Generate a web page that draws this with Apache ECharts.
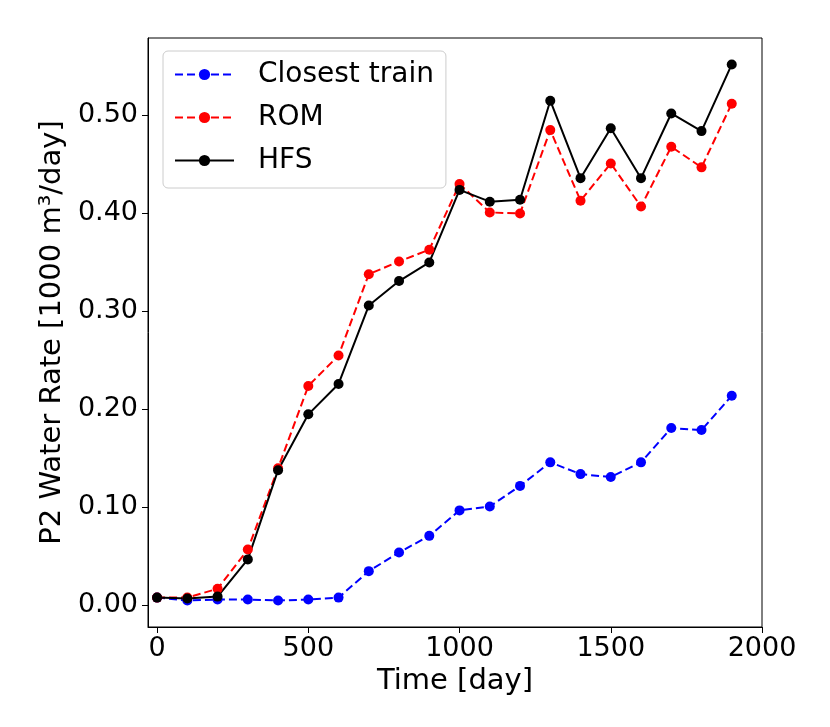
<!DOCTYPE html>
<html>
<head>
<meta charset="utf-8">
<script src="https://cdn.jsdelivr.net/npm/echarts@6/dist/echarts.min.js"></script>
<style>
  html, body { margin: 0; padding: 0; background: #fff; }
  #main { width: 830px; height: 727px; }
</style>
</head>
<body>
<div id="main"></div>
<script>
// data
var days = [0, 100, 200, 300, 400, 500, 600, 700, 800, 900, 1000, 1100, 1200, 1300, 1400, 1500, 1600, 1700, 1800, 1900];
var closestTrain = [0.008, 0.005, 0.006, 0.006, 0.005, 0.006, 0.008, 0.035, 0.054, 0.071, 0.097, 0.101, 0.122, 0.146, 0.134, 0.131, 0.146, 0.181, 0.179, 0.214];
var rom = [0.008, 0.008, 0.017, 0.057, 0.140, 0.224, 0.255, 0.338, 0.351, 0.363, 0.430, 0.401, 0.400, 0.485, 0.413, 0.451, 0.407, 0.468, 0.447, 0.512];
var hfs = [0.008, 0.007, 0.009, 0.047, 0.138, 0.195, 0.226, 0.306, 0.331, 0.350, 0.424, 0.412, 0.414, 0.515, 0.436, 0.487, 0.436, 0.502, 0.484, 0.552];
var xTicks = [0, 500, 1000, 1500, 2000];
var yTicks = [0, 0.1, 0.2, 0.3, 0.4, 0.5];

var font = 'DejaVu Sans';

function pairs(ys) {
    return days.map(function (d, i) { return [d, ys[i]]; });
}

function makeSeries(name, ys, color, dashed) {
    return {
        name: name,
        type: 'line',
        data: pairs(ys),
        symbol: 'circle',
        symbolSize: 10,
        color: color,
        itemStyle: { color: color },
        lineStyle: { color: color, width: 2, type: dashed ? [8, 4] : 'solid' },
        emphasis: { disabled: true },
        animation: false
    };
}

var myChart = echarts.init(document.getElementById('main'));

var option = {
    backgroundColor: '#fff',
    textStyle: { fontFamily: font },
    grid: {
        left: 148, right: 68, top: 38, bottom: 100,
        show: true, borderColor: '#000', borderWidth: 1
    },
    legend: {
        orient: 'vertical',
        left: 163, top: 51,
        padding: [8, 12, 12, 11],
        itemWidth: 59, itemHeight: 14,
        itemGap: 12,
        backgroundColor: 'rgba(255,255,255,0.8)',
        borderColor: '#ccc', borderWidth: 1, borderRadius: 5,
        textStyle: { fontFamily: font, fontSize: 28, color: '#000', lineHeight: 31, padding: [0, 0, 0, 19] },
        data: ['Closest train', 'ROM', 'HFS']
    },
    xAxis: {
        type: 'value',
        min: -30, max: 2000,
        name: 'Time [day]',
        nameLocation: 'middle',
        nameGap: 40,
        nameTextStyle: { fontFamily: font, fontSize: 29, color: '#000' },
        splitLine: { show: false },
        axisLine: { show: true, onZero: false, lineStyle: { color: '#000', width: 1 } },
        axisTick: { show: true, length: 6, lineStyle: { color: '#000' }, customValues: xTicks },
        axisLabel: {
            fontFamily: font, fontSize: 27, color: '#000', margin: 8,
            customValues: xTicks,
            formatter: function (v) { return String(v); }
        }
    },
    yAxis: {
        type: 'value',
        min: -0.022, max: 0.579,
        name: 'P2 Water Rate [1000 m³/day]',
        nameLocation: 'middle',
        nameGap: 81,
        nameTextStyle: { fontFamily: font, fontSize: 29, color: '#000' },
        splitLine: { show: false },
        axisLine: { show: true, onZero: false, lineStyle: { color: '#000', width: 1 } },
        axisTick: { show: true, length: 6, lineStyle: { color: '#000' }, customValues: yTicks },
        axisLabel: {
            fontFamily: font, fontSize: 27, color: '#000', margin: 10,
            customValues: yTicks,
            formatter: function (v) { return v.toFixed(2); }
        }
    },
    series: [
        makeSeries('Closest train', closestTrain, '#0000ff', true),
        makeSeries('ROM', rom, '#ff0000', true),
        makeSeries('HFS', hfs, '#000000', false)
    ]
};

myChart.setOption(option);
</script>
</body>
</html>
